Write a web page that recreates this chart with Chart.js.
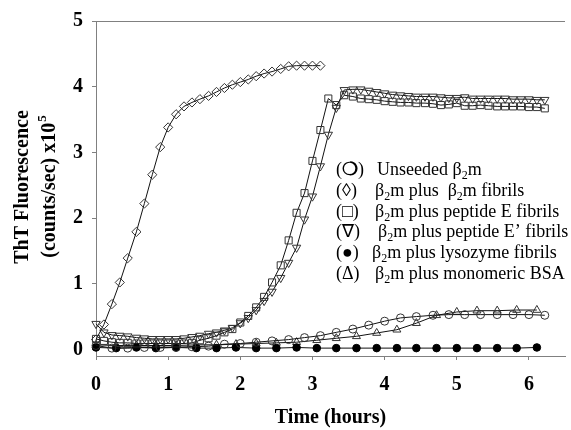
<!DOCTYPE html>
<html>
<head>
<meta charset="utf-8">
<script src="https://cdn.jsdelivr.net/npm/chart.js@4.4.0/dist/chart.umd.min.js"></script>
<style>
  html, body { margin: 0; padding: 0; background: #fff; }
</style>
</head>
<body>
<canvas id="graficaTht" width="571" height="430"></canvas>
<script>
// tiempos (horas): una lectura cada 400 s, 800 s y 1000 s
const tiempoCorto = [0, 0.11, 0.22, 0.33, 0.44, 0.56, 0.67, 0.78, 0.89, 1.00, 1.11, 1.22, 1.33, 1.44, 1.56, 1.67, 1.78, 1.89, 2.00,
  2.11, 2.22, 2.33, 2.44, 2.56, 2.67, 2.78, 2.89, 3.00, 3.11, 3.22, 3.33, 3.44, 3.56, 3.67, 3.78, 3.89, 4.00, 4.11, 4.22, 4.33,
  4.44, 4.56, 4.67, 4.78, 4.89, 5.00, 5.11, 5.22, 5.33, 5.44, 5.56, 5.67, 5.78, 5.89, 6.00, 6.11, 6.22];
const tiempoMedio = [0, 0.22, 0.44, 0.67, 0.89, 1.11, 1.33, 1.56, 1.78, 2.00, 2.22, 2.44, 2.67, 2.89, 3.11, 3.33, 3.56, 3.78,
  4.00, 4.22, 4.44, 4.67, 4.89, 5.11, 5.33, 5.56, 5.78, 6.00, 6.22];
const tiempoLargo = [0, 0.28, 0.56, 0.83, 1.11, 1.39, 1.67, 1.94, 2.22, 2.50, 2.78, 3.06, 3.33, 3.61, 3.89, 4.17, 4.44, 4.72,
  5.00, 5.28, 5.56, 5.83, 6.11];

// fluorescencia ThT (x10^5 cuentas/s)
const sinSemilla = [0.06, 0.02, 0.02, 0.03, 0.03, 0.03, 0.04, 0.05, 0.08, 0.09, 0.11, 0.13, 0.15, 0.18, 0.21, 0.26, 0.31, 0.37,
  0.43, 0.48, 0.50, 0.52, 0.53, 0.53, 0.53, 0.53, 0.53, 0.53, 0.52];
const fibrillasB2m = [0.15, 0.38, 0.69, 1.02, 1.39, 1.79, 2.22, 2.66, 3.08, 3.38, 3.58, 3.70, 3.76, 3.81, 3.86, 3.92, 3.98, 4.03,
  4.07, 4.11, 4.16, 4.20, 4.23, 4.27, 4.31, 4.32, 4.32, 4.32, 4.32];
const peptidoE = [0.16, 0.13, 0.11, 0.10, 0.10, 0.09, 0.09, 0.09, 0.09, 0.09, 0.09, 0.09, 0.10, 0.14, 0.17, 0.21, 0.26, 0.31,
  0.41, 0.51, 0.64, 0.80, 1.02, 1.28, 1.66, 2.08, 2.38, 2.87, 3.34, 3.82, 3.72, 3.87, 3.85, 3.82, 3.81, 3.80, 3.78, 3.77, 3.76,
  3.76, 3.75, 3.75, 3.74, 3.72, 3.73, 3.75, 3.71, 3.71, 3.72, 3.71, 3.70, 3.70, 3.70, 3.70, 3.69, 3.69, 3.67];
const peptidoEprima = [0.39, 0.26, 0.22, 0.21, 0.20, 0.18, 0.17, 0.16, 0.16, 0.16, 0.16, 0.17, 0.19, 0.21, 0.24, 0.26, 0.29, 0.33,
  0.40, 0.48, 0.60, 0.74, 0.88, 1.09, 1.32, 1.55, 1.98, 2.33, 2.79, 3.27, 3.68, 3.95, 3.96, 3.96, 3.94, 3.92, 3.90, 3.88, 3.87,
  3.86, 3.85, 3.85, 3.85, 3.84, 3.83, 3.83, 3.84, 3.82, 3.82, 3.82, 3.82, 3.82, 3.81, 3.81, 3.81, 3.80, 3.80];
const lisozima = [0.03, 0.02, 0.03, 0.02, 0.03, 0.02, 0.02, 0.03, 0.02, 0.02, 0.03, 0.02, 0.02, 0.02, 0.02, 0.02, 0.02, 0.02,
  0.02, 0.02, 0.02, 0.02, 0.03];
const bsaMonomerica = [0.07, 0.06, 0.06, 0.06, 0.06, 0.07, 0.07, 0.08, 0.09, 0.10, 0.11, 0.14, 0.17, 0.20, 0.25, 0.30, 0.40,
  0.52, 0.57, 0.59, 0.59, 0.60, 0.60];

const marcasX = [0, 1, 2, 3, 4, 5, 6];
const marcasY = [0, 1, 2, 3, 4, 5];

const simbolos = ['(\u274D)', '(\u25CA)', '(\u25A1)', '(\u2207)', '(\u25CF)', '(\u0394)'];
const etiquetas = ['Unseeded \u03B2_2m', '\u03B2_2m plus  \u03B2_2m fibrils', '\u03B2_2m plus peptide E fibrils',
  '\u03B2_2m plus peptide E\u2019 fibrils', '\u03B2_2m plus lysozyme fibrils', '\u03B2_2m plus monomeric BSA'];
const tituloX = 'Time (hours)';
const tituloY = ['ThT Fluorescence', '(counts/sec) x10', '5'];

const serif = '"Liberation Serif", "Times New Roman", serif';

function puntos(xs, ys) {
  return ys.map((v, i) => ({ x: xs[i], y: v }));
}

// texto con subindice "_2"
function textoRico(ctx, texto, x, y, tam) {
  const partes = texto.split('_');
  let cx = x;
  partes.forEach((p, i) => {
    if (i === 0) {
      ctx.font = tam + 'px ' + serif;
      ctx.fillText(p, cx, y);
      cx += ctx.measureText(p).width;
    } else {
      ctx.font = Math.round(tam * 0.66) + 'px ' + serif;
      ctx.fillText(p[0], cx, y + 4);
      cx += ctx.measureText(p[0]).width;
      ctx.font = tam + 'px ' + serif;
      const resto = p.slice(1);
      ctx.fillText(resto, cx, y);
      cx += ctx.measureText(resto).width;
    }
  });
}

// simbolo entre parentesis; el glifo central puede ir en negrita
function simbolo(ctx, s, x, y, negrita) {
  ctx.font = '18px ' + serif;
  ctx.fillText('(', x, y);
  let cx = x + ctx.measureText('(').width;
  ctx.font = (negrita ? 'bold ' : '') + '18px ' + serif;
  const g = s.slice(1, -1);
  ctx.fillText(g, cx, y);
  cx += ctx.measureText(g).width;
  ctx.font = '18px ' + serif;
  ctx.fillText(')', cx, y);
}

const extras = {
  id: 'extras',
  afterDraw(chart) {
    const ctx = chart.ctx;
    const a = chart.chartArea;
    ctx.save();
    // linea superior del marco
    ctx.strokeStyle = '#808080';
    ctx.lineWidth = 1;
    ctx.beginPath();
    ctx.moveTo(a.left, Math.round(a.top) + 0.5);
    ctx.lineTo(a.right, Math.round(a.top) + 0.5);
    ctx.stroke();

    // titulo eje Y
    ctx.fillStyle = '#000';
    ctx.textBaseline = 'alphabetic';
    ctx.save();
    ctx.translate(28, 187);
    ctx.rotate(-Math.PI / 2);
    ctx.font = 'bold 20px ' + serif;
    ctx.textAlign = 'center';
    ctx.fillText(tituloY[0], 0, 0);
    ctx.textAlign = 'left';
    const w1 = ctx.measureText(tituloY[1]).width;
    ctx.font = 'bold 13px ' + serif;
    const w2 = ctx.measureText(tituloY[2]).width;
    const x0 = -(w1 + w2) / 2;
    ctx.font = 'bold 20px ' + serif;
    ctx.fillText(tituloY[1], x0, 27);
    ctx.font = 'bold 13px ' + serif;
    ctx.fillText(tituloY[2], x0 + w1 + 1, 18);
    ctx.restore();

    // leyenda
    const baseY = [174.5, 195.5, 216.5, 237, 258, 279];
    const textoX = [377, 375, 375, 378, 372, 375];
    const negritas = [true, false, true, false, false, false];
    ctx.textAlign = 'left';
    simbolos.forEach((s, i) => {
      simbolo(ctx, s, 336, baseY[i], negritas[i]);
      textoRico(ctx, etiquetas[i], textoX[i], baseY[i], 18);
    });
    ctx.restore();
  }
};

const base = {
  borderColor: '#111',
  borderWidth: 1,
  pointBorderColor: '#333',
  pointBackgroundColor: 'rgba(0,0,0,0)',
  pointBorderWidth: 1,
  tension: 0,
  clip: false
};

new Chart(document.getElementById('graficaTht'), {
  type: 'line',
  data: {
    datasets: [
      Object.assign({}, base, { label: 'Unseeded', data: puntos(tiempoMedio, sinSemilla), pointStyle: 'circle', pointRadius: 4 }),
      Object.assign({}, base, { label: 'b2m fibrils', data: puntos(tiempoCorto, fibrillasB2m), pointStyle: 'rectRot', pointRadius: 4.6 }),
      Object.assign({}, base, { label: 'peptide E', data: puntos(tiempoCorto, peptidoE), pointStyle: 'rect', pointRadius: 5 }),
      Object.assign({}, base, { label: "peptide E'", data: puntos(tiempoCorto, peptidoEprima), pointStyle: 'triangle', pointRotation: 180, pointRadius: 4.8 }),
      Object.assign({}, base, { label: 'lysozyme', data: puntos(tiempoLargo, lisozima), pointStyle: 'circle', pointRadius: 3.8, pointBackgroundColor: '#000', pointBorderColor: '#000' }),
      Object.assign({}, base, { label: 'BSA', data: puntos(tiempoLargo, bsaMonomerica), pointStyle: 'triangle', pointRadius: 4.6 })
    ]
  },
  options: {
    responsive: false,
    animation: false,
    events: [],
    layout: { padding: { top: 21, right: 0, left: 0, bottom: 0 } },
    plugins: {
      legend: { display: false },
      tooltip: { enabled: false }
    },
    scales: {
      x: {
        type: 'linear',
        min: 0,
        max: 6.5,
        afterBuildTicks: (s) => { s.ticks = marcasX.map(v => ({ value: v })); },
        afterFit: (s) => { s.height = 74; },
        ticks: { color: '#000', padding: 13, font: { family: serif, size: 20, weight: 'bold' } },
        grid: { drawOnChartArea: false, drawTicks: true, tickLength: 4, color: '#808080' },
        border: { color: '#808080', width: 1 },
        title: { display: true, text: tituloX, color: '#000', padding: { top: 0, bottom: 0 }, font: { family: serif, size: 20, weight: 'bold' } }
      },
      y: {
        min: -0.1,
        max: 5,
        afterBuildTicks: (s) => { s.ticks = marcasY.map(v => ({ value: v })); },
        afterFit: (s) => { s.width = 96; },
        ticks: { color: '#000', padding: 9, font: { family: serif, size: 20, weight: 'bold' } },
        grid: { drawOnChartArea: false, drawTicks: true, tickLength: 4, color: '#808080' },
        border: { color: '#808080', width: 1 }
      }
    }
  },
  plugins: [extras]
});
</script>
</body>
</html>
